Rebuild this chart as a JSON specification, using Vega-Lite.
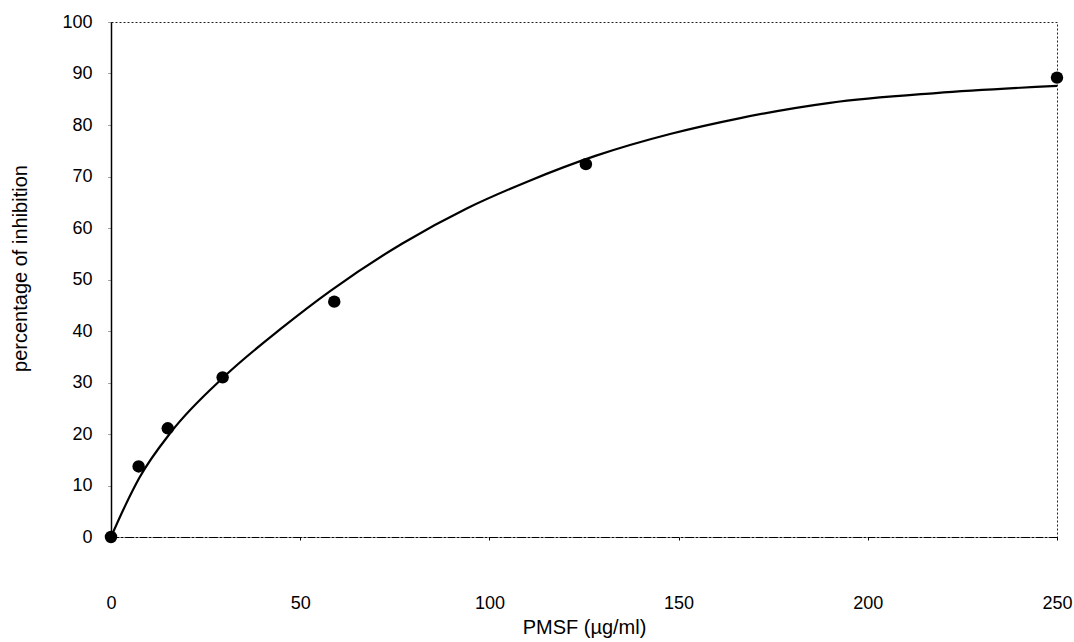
{
  "$schema": "https://vega.github.io/schema/vega-lite/v6.json",
  "width": 946,
  "height": 515,
  "autosize": "none",
  "padding": {"left": 111, "top": 22, "right": 17, "bottom": 105},
  "background": "white",
  "config": {
    "view": {"stroke": "#222", "strokeDash": [2, 2], "strokeWidth": 1},
    "font": "Liberation Sans"
  },
  "datasets": {
    "points": [
      {"pmsf": 0, "inhibition": 0},
      {"pmsf": 7.3, "inhibition": 13.7},
      {"pmsf": 15, "inhibition": 21.1},
      {"pmsf": 29.5, "inhibition": 31.0},
      {"pmsf": 59, "inhibition": 45.7},
      {"pmsf": 125.5, "inhibition": 72.4},
      {"pmsf": 250, "inhibition": 89.2}
    ],
    "curve": [
      {"pmsf": 0, "inhibition": 0},
      {"pmsf": 3.7, "inhibition": 6.0},
      {"pmsf": 7.5, "inhibition": 11.5},
      {"pmsf": 16, "inhibition": 20.5},
      {"pmsf": 30, "inhibition": 31.2},
      {"pmsf": 45, "inhibition": 40.5},
      {"pmsf": 58, "inhibition": 47.8},
      {"pmsf": 77, "inhibition": 57.0},
      {"pmsf": 94, "inhibition": 63.8},
      {"pmsf": 110, "inhibition": 69.0},
      {"pmsf": 128, "inhibition": 74.0},
      {"pmsf": 148, "inhibition": 78.3},
      {"pmsf": 166, "inhibition": 81.3},
      {"pmsf": 190, "inhibition": 84.3},
      {"pmsf": 218, "inhibition": 86.2},
      {"pmsf": 250, "inhibition": 87.6}
    ]
  },
  "layer": [
    {
      "data": {"name": "curve"},
      "mark": {"type": "line", "color": "black", "strokeWidth": 2.2, "interpolate": "monotone"},
      "encoding": {
        "x": {
          "field": "pmsf", "type": "quantitative",
          "scale": {"domain": [0, 250], "nice": false, "zero": true},
          "axis": {
            "values": [0, 50, 100, 150, 200, 250],
            "grid": false,
            "domainColor": "black", "domainWidth": 1.2, "domainDash": [8, 2, 2, 2],
            "tickColor": "black", "tickSize": 3,
            "labelFontSize": 18, "labelColor": "black", "labelPadding": 54,
            "labelFont": "Liberation Sans", "labelFlush": false,
            "title": "PMSF (µg/ml)",
            "titleFontSize": 20, "titleFontWeight": "normal", "titleColor": "black",
            "titleFont": "Liberation Sans",
            "titleY": 90, "titleBaseline": "middle"
          }
        },
        "y": {
          "field": "inhibition", "type": "quantitative",
          "scale": {"domain": [0, 100], "nice": false},
          "axis": {
            "values": [0, 10, 20, 30, 40, 50, 60, 70, 80, 90, 100],
            "grid": false,
            "domainColor": "black", "domainWidth": 1.5,
            "tickColor": "#444", "tickSize": 3, "tickDash": [1, 1],
            "labelFontSize": 18, "labelColor": "black", "labelPadding": 16,
            "labelFont": "Liberation Sans", "labelFlush": false,
            "title": "percentage of  inhibition",
            "titleFontSize": 20, "titleFontWeight": "normal", "titleColor": "black",
            "titleFont": "Liberation Sans",
            "titleX": -91, "titleY": 246, "titleBaseline": "middle", "titleAngle": -90
          }
        }
      }
    },
    {
      "data": {"name": "points"},
      "mark": {"type": "point", "filled": true, "color": "black", "opacity": 1, "size": 155},
      "encoding": {
        "x": {"field": "pmsf", "type": "quantitative"},
        "y": {"field": "inhibition", "type": "quantitative"}
      }
    }
  ]
}
